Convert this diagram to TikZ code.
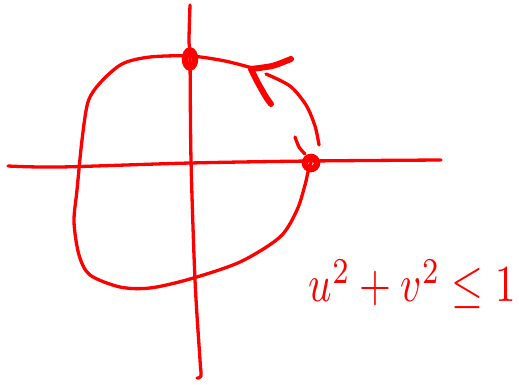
\documentclass[tikz,border=0pt]{standalone}
\usepackage{tikz}
\usetikzlibrary{positioning,calc,shapes.geometric}

\tikzset{
  ink/.style={red,line width=3.3pt,line cap=round,line join=round},
  tipink/.style={red,line width=6pt,line cap=round,line join=round},
  dot/.style={circle,draw=red,line width=6.5pt,inner sep=0pt,minimum size=9pt}
}

\begin{document}
\begin{tikzpicture}[x=1pt,y=-1pt]
\useasboundingbox (0,0) rectangle (519,385);
% axes
\draw[ink] plot[smooth] coordinates {(8,166) (60,167) (190,163) (311,161) (441,160)};
\draw[ink] plot[smooth] coordinates {(190,5) (189,40) (190,60) (191,160) (195,280) (200,360) (201,376) (197,378)};
% marked points
\node[dot,ellipse,minimum height=17pt,minimum width=10pt] (top) at (190,59) {};
\node[dot,minimum size=12pt] (right) at (311,163) {};
% the closed curve
\draw[ink] plot[smooth] coordinates {(256,69) (225,61) (190,56) (150,57) (122,64) (100,83) (88,102) (82,140) (77,190) (74,222) (79,255) (90,275) (120,287) (150,288) (190,279) (240,262) (280,237) (297,210) (305,185) (308,172) (311,163)};
\draw[ink] plot[smooth] coordinates {(266,74) (290,86) (306,105) (315,126) (319,145)};
\draw[ink] plot[smooth] coordinates {(295,137) (299,147) (305,154)};
% arrowhead
\draw[tipink] plot[smooth] coordinates {(251,69) (258,83) (266,97) (271,104)};
\draw[tipink] plot[smooth] coordinates {(251,69) (272,66) (286,61) (291,59)};
% label
\node[red,anchor=south west,inner sep=0pt,xscale=4.1,yscale=5.2] (lbl) at (308,310) {$u^2+v^2\leq 1$};
\end{tikzpicture}
\end{document}
